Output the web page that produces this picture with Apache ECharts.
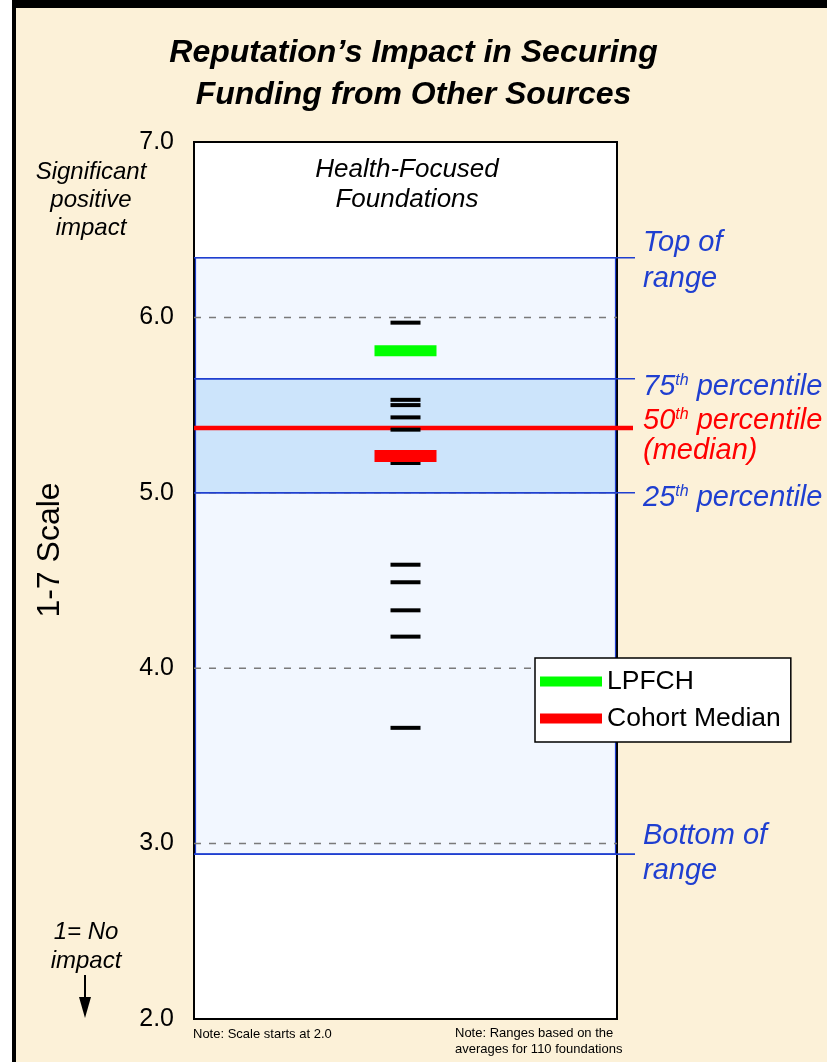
<!DOCTYPE html>
<html>
<head>
<meta charset="utf-8">
<script src="https://cdn.jsdelivr.net/npm/echarts@6/dist/echarts.min.js"></script>
<style>
html,body{margin:0;padding:0;background:#fcf1d8;}
#chart{width:827px;height:1062px;}
</style>
</head>
<body>
<div id="chart"></div>
<script>
// ---- data ----
const yMin = 2, yMax = 7, yStep = 1;
const gridValues = [3, 4, 5, 6];
const foundationScores = [5.97, 5.53, 5.50, 5.43, 5.36, 5.17, 4.59, 4.49, 4.33, 4.18, 3.66];
const lpfchScore = [5.81];
const cohortMedianScore = [5.21];
const rangeBands = [[2.94, 6.34], [5.00, 5.65]];
const rangeLines = [2.94, 5.00, 5.65, 6.34];
const medianLine = [5.37];
const seriesNames = ['LPFCH', 'Cohort Median'];

const FF = '"Liberation Sans", Arial, Helvetica, sans-serif';
const BLUE = '#1f3fd0';
const chart = echarts.init(document.getElementById('chart'));

function supLabel(num, rest, color) {
  return {
    text: '{n|' + num + '}{s|th}{n|' + rest + '}',
    rich: {
      n: { fontSize: 29, fontStyle: 'italic', fontFamily: FF, fill: color, lineHeight: 32 },
      s: { fontSize: 16, fontStyle: 'italic', fontFamily: FF, fill: color, lineHeight: 32, verticalAlign: 'top', padding: [2, 0, 0, 0] }
    },
    verticalAlign: 'middle', align: 'left'
  };
}

const option = {
  backgroundColor: '#fcf1d8',
  animation: false,
  title: {
    text: 'Reputation\u2019s Impact in Securing\nFunding from Other Sources',
    left: 'center', top: 27,
    textStyle: { fontSize: 32, fontWeight: 'bold', fontStyle: 'italic', fontFamily: FF, color: '#000', lineHeight: 42 }
  },
  grid: { left: 194, right: 210, top: 142, bottom: 43, show: true, backgroundColor: '#ffffff', borderColor: '#000', borderWidth: 2 },
  xAxis: { type: 'value', min: 0, max: 1, show: false },
  yAxis: {
    type: 'value', min: yMin, max: yMax, interval: yStep,
    axisLine: { show: false }, axisTick: { show: false }, splitLine: { show: false },
    axisLabel: { formatter: v => v.toFixed(1), fontSize: 25, fontFamily: FF, color: '#000', margin: 20 }
  },
  legend: {
    data: [{ name: seriesNames[0], icon: 'rect' }, { name: seriesNames[1], icon: 'rect' }],
    orient: 'vertical', left: 535, top: 658,
    backgroundColor: '#fff', borderColor: '#000', borderWidth: 1.5,
    padding: [10, 10, 10, 5], itemWidth: 62, itemHeight: 10, itemGap: 10,
    textStyle: { fontSize: 26.5, fontFamily: FF, color: '#000' },
    selectedMode: false
  },
  series: [
    {
      type: 'custom', z: 1, silent: true, clip: false,
      data: rangeBands,
      encode: { y: [0, 1] },
      renderItem: (params, api) => {
        const lo = api.value(0), hi = api.value(1);
        const p1 = api.coord([0, hi]), p2 = api.coord([1, lo]);
        return {
          type: 'rect',
          shape: { x: p1[0] + 1.5, y: p1[1], width: p2[0] - p1[0] - 3, height: p2[1] - p1[1] },
          style: { fill: params.dataIndex === 0 ? '#f2f7ff' : '#cce4fb', stroke: BLUE, lineWidth: 1.2 }
        };
      }
    },
    {
      type: 'custom', z: 2, silent: true, clip: false,
      data: gridValues.map(v => [v]),
      encode: { y: 0 },
      renderItem: (params, api) => {
        const v = api.value(0);
        const p1 = api.coord([0, v]), p2 = api.coord([1, v]);
        return {
          type: 'line',
          shape: { x1: p1[0], y1: p1[1], x2: p2[0], y2: p2[1] },
          style: { stroke: '#7a7a7a', lineWidth: 1.5, lineDash: [7, 8] }
        };
      }
    },
    {
      type: 'custom', z: 3, silent: true, clip: false,
      data: rangeLines.map(v => [v]),
      encode: { y: 0 },
      renderItem: (params, api) => {
        const v = api.value(0);
        const p1 = api.coord([0, v]), p2 = api.coord([1, v]);
        return {
          type: 'line',
          shape: { x1: p1[0], y1: p1[1], x2: p2[0] + 18, y2: p2[1] },
          style: { stroke: BLUE, lineWidth: 1.6 }
        };
      }
    },
    {
      type: 'custom', z: 4, silent: true, clip: false,
      data: medianLine.map(v => [v]),
      encode: { y: 0 },
      renderItem: (params, api) => {
        const v = api.value(0);
        const p1 = api.coord([0, v]), p2 = api.coord([1, v]);
        return {
          type: 'line',
          shape: { x1: p1[0], y1: p1[1], x2: p2[0] + 16, y2: p2[1] },
          style: { stroke: '#ff0000', lineWidth: 4.5 }
        };
      }
    },
    {
      name: 'foundations', type: 'scatter', z: 5, silent: true,
      symbol: 'rect', symbolSize: [30, 4],
      itemStyle: { color: '#000', opacity: 1 },
      data: foundationScores.map(v => [0.5, v])
    },
    {
      name: seriesNames[0], type: 'scatter', z: 6, silent: true,
      symbol: 'rect', symbolSize: [62, 11],
      itemStyle: { color: '#00ff00', opacity: 1 },
      data: lpfchScore.map(v => [0.5, v])
    },
    {
      name: seriesNames[1], type: 'scatter', z: 6, silent: true,
      symbol: 'rect', symbolSize: [62, 12],
      itemStyle: { color: '#ff0000', opacity: 1 },
      data: cohortMedianScore.map(v => [0.5, v])
    }
  ],
  graphic: [
    { type: 'rect', shape: { x: 0, y: 0, width: 12, height: 1062 }, style: { fill: '#ffffff' }, z: 100 },
    { type: 'rect', shape: { x: 12, y: 0, width: 4, height: 1062 }, style: { fill: '#000000' }, z: 100 },
    { type: 'rect', shape: { x: 12, y: 0, width: 815, height: 8 }, style: { fill: '#000000' }, z: 100 },
    { type: 'text', x: 407, y: 185, style: { text: 'Health-Focused\nFoundations', fontSize: 26, fontStyle: 'italic', fontFamily: FF, fill: '#000', align: 'center', verticalAlign: 'middle', lineHeight: 30 }, z: 100 },
    { type: 'text', x: 91, y: 200, style: { text: 'Significant\npositive\nimpact', fontSize: 24, fontStyle: 'italic', fontFamily: FF, fill: '#000', align: 'center', verticalAlign: 'middle', lineHeight: 28 }, z: 100 },
    { type: 'text', x: 50, y: 550, rotation: Math.PI / 2, style: { text: '1-7 Scale', fontSize: 32, fontFamily: FF, fill: '#000', align: 'center', verticalAlign: 'middle' }, z: 100 },
    { type: 'text', x: 86, y: 947, style: { text: '1= No\nimpact', fontSize: 24, fontStyle: 'italic', fontFamily: FF, fill: '#000', align: 'center', verticalAlign: 'middle', lineHeight: 29 }, z: 100 },
    { type: 'line', shape: { x1: 85, y1: 975, x2: 85, y2: 1000 }, style: { stroke: '#000', lineWidth: 2 }, z: 100 },
    { type: 'polygon', shape: { points: [[79, 997], [91, 997], [85, 1018]] }, style: { fill: '#000' }, z: 100 },
    { type: 'text', x: 643, y: 261, style: { text: 'Top of\nrange', fontSize: 29, fontStyle: 'italic', fontFamily: FF, fill: BLUE, align: 'left', verticalAlign: 'middle', lineHeight: 36 }, z: 100 },
    { type: 'text', x: 643, y: 387, style: supLabel('75', ' percentile', BLUE), z: 100 },
    { type: 'text', x: 643, y: 421, style: supLabel('50', ' percentile', '#ff0000'), z: 100 },
    { type: 'text', x: 643, y: 451, style: { text: '(median)', fontSize: 29, fontStyle: 'italic', fontFamily: FF, fill: '#ff0000', align: 'left', verticalAlign: 'middle' }, z: 100 },
    { type: 'text', x: 643, y: 498, style: supLabel('25', ' percentile', BLUE), z: 100 },
    { type: 'text', x: 643, y: 853, style: { text: 'Bottom of\nrange', fontSize: 29, fontStyle: 'italic', fontFamily: FF, fill: BLUE, align: 'left', verticalAlign: 'middle', lineHeight: 35 }, z: 100 },
    { type: 'text', x: 193, y: 1034, style: { text: 'Note: Scale starts at 2.0', fontSize: 13, fontFamily: FF, fill: '#000', align: 'left', verticalAlign: 'middle' }, z: 100 },
    { type: 'text', x: 455, y: 1041, style: { text: 'Note: Ranges based on the\naverages for 110 foundations', fontSize: 13, fontFamily: FF, fill: '#000', align: 'left', verticalAlign: 'middle', lineHeight: 16 }, z: 100 }
  ]
};
chart.setOption(option);
</script>
</body>
</html>
